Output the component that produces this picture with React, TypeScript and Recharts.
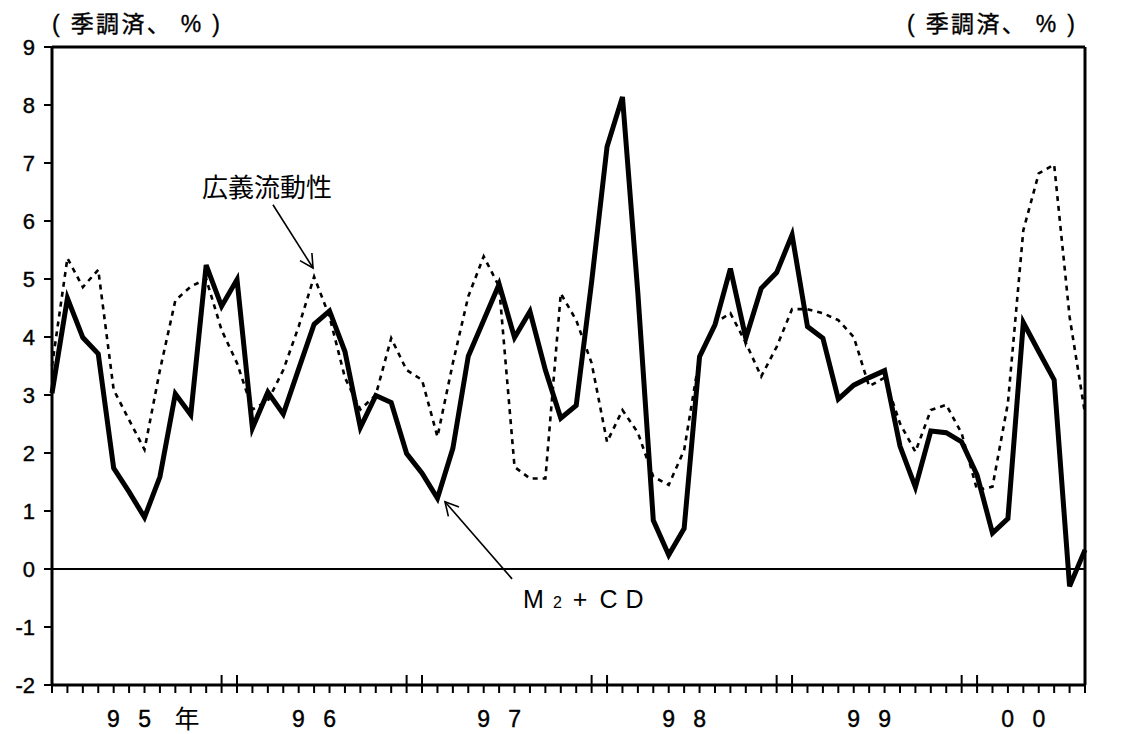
import React from "react"
import { LineChart, Line, XAxis, YAxis, ReferenceLine } from "recharts"

// months Jan 1995 .. Aug 2000
const years = ["95", "96", "97", "98", "99", "00"]
const months = years
  .flatMap((y) => ["1", "2", "3", "4", "5", "6", "7", "8", "9", "10", "11", "12"].map((m) => `${y}/${m}`))
  .slice(0, 68)

// M2+CD, % change (seasonally adjusted)
const m2cd = [
  3.03, 4.67, 3.99, 3.71, 1.74, 1.33, 0.89, 1.59, 3.02, 2.66, 5.24, 4.53,
  4.99, 2.43, 3.05, 2.67, 3.45, 4.22, 4.45, 3.75, 2.44, 2.99, 2.87, 1.99,
  1.65, 1.22, 2.08, 3.67, 4.29, 4.91, 3.99, 4.44, 3.43, 2.6, 2.82, 4.95,
  7.28, 8.14, 4.75, 0.84, 0.24, 0.7, 3.66, 4.21, 5.18, 3.98, 4.84, 5.11,
  5.76, 4.18, 3.98, 2.93, 3.17, 3.3, 3.42, 2.12, 1.41, 2.38, 2.35, 2.19,
  1.62, 0.62, 0.87, 4.25, 3.75, 3.26, -0.3, 0.33,
]

// 広義流動性
const broad = [
  3.5, 5.36, 4.86, 5.16, 3.09, 2.57, 2.06, 3.43, 4.63, 4.87, 5.0, 4.12,
  3.55, 2.75, 2.9, 3.43, 4.18, 5.04, 4.35, 3.3, 2.75, 3.0, 3.98, 3.43,
  3.26, 2.28, 3.55, 4.7, 5.39, 4.87, 1.76, 1.56, 1.56, 4.75, 4.29, 3.55,
  2.19, 2.74, 2.35, 1.59, 1.45, 2.05, 3.66, 4.24, 4.41, 3.9, 3.32, 3.83,
  4.48, 4.48, 4.41, 4.29, 4.0, 3.15, 3.3, 2.51, 2.02, 2.74, 2.83, 2.34,
  1.36, 1.42, 2.86, 5.84, 6.82, 6.97, 4.35, 2.68,
]

const yTicks = [-2, -1, 0, 1, 2, 3, 4, 5, 6, 7, 8, 9]

const yearLabels = [
  { at: 5, text: "9 5", suffix: "年" },
  { at: 17, text: "9 6" },
  { at: 29, text: "9 7" },
  { at: 41, text: "9 8" },
  { at: 53, text: "9 9" },
  { at: 63, text: "0 0" },
]

const data = months.map((m, i) => ({ i, m, m2cd: m2cd[i], broad: broad[i] }))

const LATIN = "Arial, 'Liberation Sans', sans-serif"
const CJK = "Arial, 'Liberation Sans', 'Noto Sans CJK JP', sans-serif"
const JP = "'Noto Sans CJK JP', sans-serif"

const MonthTick = ({ x, y, payload }: any) => {
  const i = payload.value
  const mon = months[i] ? months[i].split("/")[1] : ""
  const tall = mon === "12" || mon === "1"
  const lbl = yearLabels.find((l) => l.at === i)
  return (
    <g>
      <line x1={x} x2={x} y1={tall ? y - 10 : y} y2={y + 8} stroke="#000" strokeWidth={2} />
      {lbl && (
        <text x={x + 3} y={y + 42} textAnchor="middle" fontSize={23} letterSpacing={6} fontFamily={LATIN} fill="#000" stroke="#000" strokeWidth={0.4}>
          {lbl.text}
        </text>
      )}
      {lbl && lbl.suffix && (
        <text x={x + 58} y={y + 43} textAnchor="middle" fontSize={25} fontFamily={JP} fill="#000">
          {lbl.suffix}
        </text>
      )}
    </g>
  )
}

const UnitTitle = ({ viewBox, side }: any) => {
  const x = side === "left" ? viewBox.x + viewBox.width : viewBox.x - 178
  return (
    <text x={x} y={viewBox.y - 15} fontSize={23} fontFamily={CJK} fill="#000" stroke="#000" strokeWidth={0.35} textLength={168} lengthAdjust="spacing">
      ( 季調済、 % )
    </text>
  )
}

// arrow drawn from segment start to tip (second point)
const Arrow = (props: any) => {
  const { x1, y1, x2, y2 } = props
  const a = Math.atan2(y2 - y1, x2 - x1)
  const len = 15
  const s = 0.49
  const p1 = `${x2 - len * Math.cos(a - s)},${y2 - len * Math.sin(a - s)}`
  const p2 = `${x2 - len * Math.cos(a + s)},${y2 - len * Math.sin(a + s)}`
  return (
    <g>
      <line x1={x1} y1={y1} x2={x2} y2={y2} stroke="#000" strokeWidth={1.6} />
      <polyline points={`${p1} ${x2},${y2} ${p2}`} fill="none" stroke="#000" strokeWidth={1.6} />
    </g>
  )
}

const BroadLabel = ({ viewBox }: any) => (
  <text x={viewBox.x - 6} y={viewBox.y - 8} textAnchor="middle" fontSize={26} fontFamily={JP} fill="#000">
    広義流動性
  </text>
)

const M2Label = ({ viewBox }: any) => (
  <text x={viewBox.x + viewBox.width + 11} y={viewBox.y + viewBox.height + 29} fontSize={25} fontFamily={LATIN} fill="#000">
    M<tspan fontSize={16} dx={9}>2</tspan>
    <tspan dx={11}>+</tspan>
    <tspan dx={12}>C</tspan>
    <tspan dx={8}>D</tspan>
  </text>
)

const yTick = { fill: "#000", stroke: "#000", strokeWidth: 0.4, fontSize: 22, fontFamily: LATIN }

export default function App() {
  return (
    <div style={{ position: "absolute", left: 0, top: 0, background: "#fff" }}>
      <LineChart width={1137} height={734} data={data} margin={{ top: 47, right: 0, bottom: 0, left: 0 }}>
        <XAxis
          type="number"
          dataKey="i"
          domain={[0, 67]}
          ticks={months.map((_, i) => i)}
          interval={0}
          tick={<MonthTick />}
          tickLine={false}
          tickSize={0}
          tickMargin={0}
          height={49}
          axisLine={{ stroke: "#000", strokeWidth: 3 }}
        />
        <YAxis
          yAxisId="left"
          domain={[-2, 9]}
          ticks={yTicks}
          interval={0}
          width={52}
          tickSize={8}
          tickMargin={9}
          tick={yTick}
          tickLine={{ stroke: "#000", strokeWidth: 2 }}
          axisLine={{ stroke: "#000", strokeWidth: 3 }}
          label={<UnitTitle side="left" />}
        />
        <YAxis
          yAxisId="right"
          orientation="right"
          domain={[-2, 9]}
          ticks={yTicks}
          interval={0}
          width={52}
          tickSize={8}
          tickMargin={8}
          tick={yTick}
          tickLine={{ stroke: "#000", strokeWidth: 2 }}
          axisLine={{ stroke: "#000", strokeWidth: 3 }}
          label={<UnitTitle side="right" />}
        />
        <ReferenceLine yAxisId="left" y={9} stroke="#000" strokeWidth={3} />
        <ReferenceLine yAxisId="left" y={0} stroke="#000" strokeWidth={2} />
        <Line
          yAxisId="left"
          type="linear"
          dataKey="broad"
          stroke="#000"
          strokeWidth={2.6}
          strokeDasharray="5 5"
          dot={false}
          activeDot={false}
          isAnimationActive={false}
        />
        <Line
          yAxisId="left"
          type="linear"
          dataKey="m2cd"
          stroke="#000"
          strokeWidth={5}
          strokeLinejoin="miter"
          dot={false}
          activeDot={false}
          isAnimationActive={false}
        />
        <ReferenceLine
          yAxisId="left"
          segment={[{ x: 14.33, y: 6.28 }, { x: 16.93, y: 5.19 }]}
          ifOverflow="visible"
          shape={<Arrow />}
          label={<BroadLabel />}
        />
        <ReferenceLine
          yAxisId="left"
          segment={[{ x: 29.84, y: -0.17 }, { x: 25.49, y: 1.16 }]}
          ifOverflow="visible"
          shape={<Arrow />}
          label={<M2Label />}
        />
      </LineChart>
    </div>
  )
}
